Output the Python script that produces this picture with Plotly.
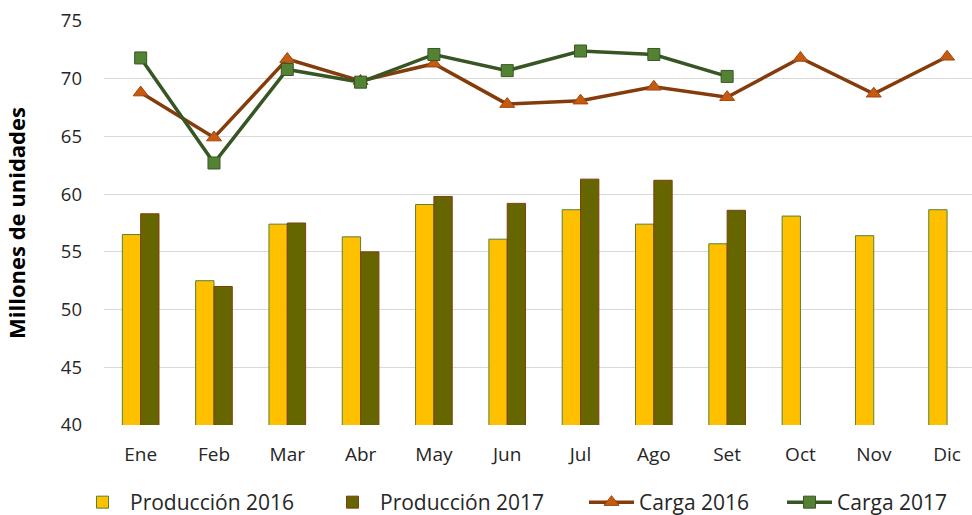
import plotly.graph_objects as go

meses = ["Ene", "Feb", "Mar", "Abr", "May", "Jun", "Jul", "Ago", "Set", "Oct", "Nov", "Dic"]
prod_2016 = [56.5, 52.5, 57.4, 56.3, 59.1, 56.1, 58.65, 57.4, 55.7, 58.1, 56.4, 58.65]
prod_2017 = [58.3, 52.0, 57.5, 55.0, 59.8, 59.2, 61.3, 61.2, 58.6, None, None, None]
carga_2016 = [68.8, 64.9, 71.7, 69.8, 71.3, 67.8, 68.1, 69.3, 68.4, 71.8, 68.7, 71.9]
carga_2017 = [71.8, 62.7, 70.8, 69.7, 72.1, 70.7, 72.4, 72.1, 70.2, None, None, None]
y_ticks = [40, 45, 50, 55, 60, 65, 70, 75]

FONT = "Open Sans, Liberation Sans, sans-serif"

fig = go.Figure()
fig.add_trace(go.Bar(
    x=meses, y=prod_2016, name="Producción 2016", legend="legend", showlegend=True,
    marker=dict(color="#FFC000", line=dict(color="#548235", width=1)),
))
fig.add_trace(go.Bar(
    x=meses, y=prod_2017, name="Producción 2017", legend="legend2", showlegend=True,
    marker=dict(color="#666600", line=dict(color="#843C0C", width=1)),
))
fig.add_trace(go.Scatter(
    x=meses, y=carga_2016, name="Carga 2016", mode="lines+markers", legend="legend3",
    showlegend=True,
    line=dict(color="#843C0C", width=3.5),
    marker=dict(symbol="triangle-up", size=13, color="#C55A11",
                line=dict(color="#A0460E", width=1)),
))
fig.add_trace(go.Scatter(
    x=meses, y=carga_2017, name="Carga 2017", mode="lines+markers", legend="legend4",
    showlegend=True,
    line=dict(color="#375623", width=3.5),
    marker=dict(symbol="square", size=12, color="#548235",
                line=dict(color="#385723", width=1)),
))

L, R, T, B = 104, 0, 21, 90
W, H = 972, 515
pw, ph = W - L - R, H - T - B


def leg(text_start_px):
    return dict(orientation="h", x=(text_start_px - 56 - L) / pw, y=(T + ph - 523) / ph,
                xanchor="left", yanchor="bottom", itemwidth=45,
                font=dict(size=21, color="#262626"), bgcolor="rgba(0,0,0,0)")


fig.update_layout(
    width=W, height=H, showlegend=True,
    margin=dict(l=L, r=R, t=T, b=B, autoexpand=False),
    paper_bgcolor="white", plot_bgcolor="white",
    barmode="group", bargap=0.5, bargroupgap=0,
    font=dict(family=FONT, size=19, color="#404040"),
    legend=leg(131), legend2=leg(381), legend3=leg(640), legend4=leg(838),
    xaxis=dict(type="category", range=[-0.5, 11.34], showgrid=False, automargin=False,
               showline=False, ticks="", ticklabelstandoff=16,
               tickfont=dict(size=19, color="#262626")),
    yaxis=dict(range=[40, 75], tickvals=y_ticks, showgrid=True, automargin=False,
               gridcolor="#D9D9D9", gridwidth=1, zeroline=False,
               showline=False, ticks="", ticklabelstandoff=21,
               tickfont=dict(size=18.5, color="#262626"),
               title=dict(text="<b>Millones de unidades</b>", standoff=29,
                          font=dict(size=22, color="#000000"))),
)

fig.write_html("out.html", config={"displayModeBar": False},
               post_script="document.body.style.margin='0';")
